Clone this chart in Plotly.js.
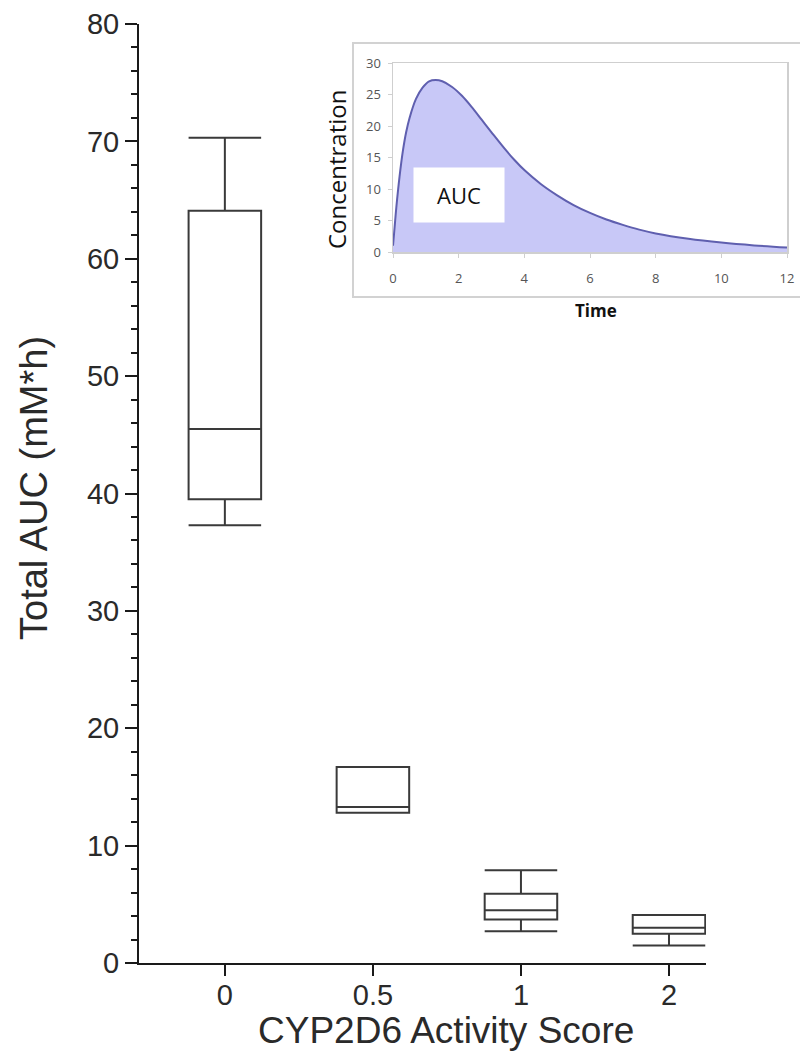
<!DOCTYPE html>
<html>
<head>
<meta charset="utf-8">
<script src="https://cdn.plot.ly/plotly-3.0.1.min.js"></script>
<style>html,body{margin:0;padding:0;background:#fff;}#chart{width:800px;height:1063px;}</style>
</head>
<body>
<div id="chart"></div>
<script>
// Main box plot data (CYP2D6 activity score vs total AUC)
const categories = ['0', '0.5', '1', '2'];
const lowerWhisker = [37.3, 12.8, 2.7, 1.5];
const q1 = [39.5, 12.8, 3.7, 2.5];
const median = [45.5, 13.3, 4.5, 3.0];
const q3 = [64.1, 16.7, 5.9, 4.1];
const upperWhisker = [70.3, 16.7, 7.9, 4.1];

// Inset concentration-time curve
const insetTime = [0, 0.05, 0.1, 0.2, 0.3, 0.4, 0.5, 0.7, 0.9, 1.1, 1.3, 1.5, 1.8, 2.1, 2.4, 2.7, 3.0, 3.4, 3.7, 4.0, 4.5, 5.0, 5.5, 6.0, 6.5, 7.0, 7.5, 8.0, 9.0, 10.0, 11.0, 12.0];
const insetConc = [1.0, 4.0, 7.0, 12.0, 16.0, 19.0, 21.2, 24.3, 26.1, 27.1, 27.3, 27.1, 26.2, 24.8, 23.0, 21.0, 19.0, 16.4, 14.6, 13.0, 10.8, 9.0, 7.45, 6.2, 5.15, 4.3, 3.55, 2.95, 2.1, 1.5, 1.05, 0.7];
const insetXTicks = [0, 2, 4, 6, 8, 10, 12];
const insetYTicks = [0, 5, 10, 15, 20, 25, 30];

// layout helpers (pixel -> paper)
const L = 139, R = 787, T = 24, B = 963;
const px = v => (v - L) / (R - L);
const py = v => (B - v) / (B - T);

const font = 'Liberation Sans, Arial, sans-serif';
const insetFont = 'Open Sans, Noto Sans, sans-serif';

const boxTrace = {
  type: 'box',
  x: categories,
  q1: q1,
  median: median,
  q3: q3,
  lowerfence: lowerWhisker,
  upperfence: upperWhisker,
  xaxis: 'x', yaxis: 'y',
  fillcolor: 'rgba(255,255,255,0)',
  line: {color: '#3a3a3a', width: 2},
  whiskerwidth: 1,
  width: 0.49,
  boxpoints: false,
  hoverinfo: 'skip',
  showlegend: false
};

const curveTrace = {
  type: 'scatter',
  mode: 'lines',
  x: insetTime,
  y: insetConc,
  xaxis: 'x2', yaxis: 'y2',
  line: {color: 'rgb(95,95,175)', width: 2, shape: 'spline', smoothing: 1},
  fill: 'tozeroy',
  fillcolor: 'rgb(200,200,247)',
  hoverinfo: 'skip',
  showlegend: false
};

const layout = {
  width: 800, height: 1063,
  margin: {l: L, r: 800 - R, t: T, b: 1063 - B},
  paper_bgcolor: '#ffffff',
  plot_bgcolor: 'rgba(0,0,0,0)',
  showlegend: false,
  xaxis: {
    type: 'category',
    domain: [0, px(706)],
    range: [-0.58, 3.25],
    anchor: 'y',
    showline: true, linecolor: '#1a1a1a', linewidth: 2,
    ticks: 'outside', ticklen: 11, tickwidth: 2, tickcolor: '#1a1a1a',
    showgrid: false, zeroline: false,
    tickfont: {family: font, size: 29, color: '#2a2a2a'},
    ticklabelstandoff: -6
  },
  yaxis: {
    domain: [0, 1],
    range: [0, 80],
    anchor: 'x',
    dtick: 10,
    showline: true, linecolor: '#1a1a1a', linewidth: 2,
    ticks: 'outside', ticklen: 12, tickwidth: 2, tickcolor: '#1a1a1a',
    minor: {dtick: 2, ticks: 'outside', ticklen: 6, tickwidth: 2, tickcolor: '#1a1a1a', showgrid: false},
    showgrid: false, zeroline: false,
    tickfont: {family: font, size: 29, color: '#2a2a2a'},
    ticklabelstandoff: 0
  },
  xaxis2: {
    domain: [px(393), 1],
    range: [0, 12],
    anchor: 'y2',
    tickvals: insetXTicks,
    showline: true, mirror: true, linecolor: '#cfcfcf', linewidth: 1.5,
    ticks: 'outside', ticklen: 4, tickcolor: '#cfcfcf',
    showgrid: false, zeroline: false,
    tickfont: {family: insetFont, size: 13, color: '#555555'},
    ticklabelstandoff: 10
  },
  yaxis2: {
    domain: [py(252), py(63)],
    range: [0, 30],
    anchor: 'x2',
    tickvals: insetYTicks,
    showline: true, mirror: true, linecolor: '#cfcfcf', linewidth: 1.5,
    ticks: 'outside', ticklen: 4, tickcolor: '#cfcfcf',
    showgrid: false, zeroline: false,
    tickfont: {family: insetFont, size: 13, color: '#555555'},
    ticklabelstandoff: 4
  },
  shapes: [
    {type: 'rect', xref: 'paper', yref: 'paper',
     x0: px(353), x1: px(802), y0: py(297), y1: py(43),
     line: {color: '#d2d2d2', width: 2}, fillcolor: 'rgba(0,0,0,0)', layer: 'below'}
  ],
  annotations: [
    {text: 'CYP2D6 Activity Score', xref: 'paper', yref: 'paper',
     x: px(446), y: py(1030), showarrow: false, xanchor: 'center', yanchor: 'middle',
     font: {family: font, size: 37, color: '#2a2a2a'}},
    {text: 'Total AUC (mM*h)', xref: 'paper', yref: 'paper',
     x: px(34), y: py(488), showarrow: false, textangle: -90, xanchor: 'center', yanchor: 'middle',
     font: {family: font, size: 38, color: '#2a2a2a'}},
    {text: 'Concentration', xref: 'paper', yref: 'paper',
     x: px(337), y: py(170), showarrow: false, textangle: -90, xanchor: 'center', yanchor: 'middle',
     font: {family: insetFont, size: 24, color: '#111'}},
    {text: '<b>Time</b>', xref: 'paper', yref: 'paper',
     x: px(596), y: py(310), showarrow: false, xanchor: 'center', yanchor: 'middle',
     font: {family: insetFont, size: 17, color: '#111'}},
    {text: 'AUC', xref: 'x2', yref: 'y2', x: 2.0, y: 9.0,
     showarrow: false, xanchor: 'center', yanchor: 'middle',
     bgcolor: '#ffffff', width: 88, height: 52,
     font: {family: insetFont, size: 22, color: '#111'}}
  ]
};

Plotly.newPlot('chart', [boxTrace, curveTrace], layout, {displayModeBar: false, staticPlot: true});
</script>
</body>
</html>
